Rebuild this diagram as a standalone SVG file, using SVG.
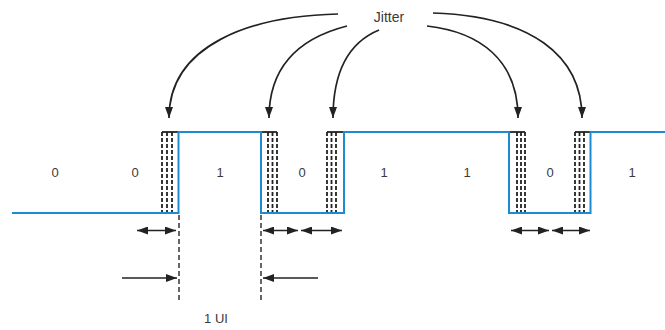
<svg xmlns="http://www.w3.org/2000/svg" width="665" height="330" viewBox="0 0 665 330">
<defs>
<marker id="ah" viewBox="0 0 11 8" refX="11" refY="4" markerWidth="11" markerHeight="8" markerUnits="userSpaceOnUse" orient="auto-start-reverse">
<path d="M0,0 L11,4 L0,8 Z" fill="#222"/>
</marker>
<style>
.sig{fill:none;stroke:#1d8bd3;stroke-width:2}
.jd{stroke:#222;stroke-width:1.8;stroke-dasharray:4,2;fill:none}
.cap{stroke:#222;stroke-width:1.8}
.ref{stroke:#333;stroke-width:1.5;stroke-dasharray:5,3;fill:none}
.arr{stroke:#222;stroke-width:1.3;fill:none}
.curve{stroke:#222;stroke-width:1.7;fill:none}
.lbl{font-family:"Liberation Sans",Arial,sans-serif;font-size:13px;fill:#3a3a3a;text-anchor:middle}
</style>
</defs>
<rect width="665" height="330" fill="#fff"/>
<g id="jitter-windows">
<g id="t1"><line class="cap" x1="162" y1="132" x2="178" y2="132"/><line class="jd" x1="162" y1="132" x2="162" y2="213"/><line class="jd" x1="167" y1="132" x2="167" y2="213"/><line class="jd" x1="172" y1="132" x2="172" y2="213"/></g>
<g id="t2"><line class="cap" x1="261" y1="132" x2="277" y2="132"/><line class="jd" x1="268" y1="132" x2="268" y2="213"/><line class="jd" x1="272.5" y1="132" x2="272.5" y2="213"/><line class="jd" x1="277" y1="132" x2="277" y2="213"/></g>
<g id="t3"><line class="cap" x1="327" y1="132" x2="344" y2="132"/><line class="jd" x1="327" y1="132" x2="327" y2="213"/><line class="jd" x1="331.5" y1="132" x2="331.5" y2="213"/><line class="jd" x1="336" y1="132" x2="336" y2="213"/></g>
<g id="t4"><line class="cap" x1="509" y1="132" x2="525" y2="132"/><line class="jd" x1="517" y1="132" x2="517" y2="213"/><line class="jd" x1="521" y1="132" x2="521" y2="213"/><line class="jd" x1="525" y1="132" x2="525" y2="213"/></g>
<g id="t5"><line class="cap" x1="575" y1="132" x2="590" y2="132"/><line class="jd" x1="575" y1="132" x2="575" y2="213"/><line class="jd" x1="579.5" y1="132" x2="579.5" y2="213"/><line class="jd" x1="584" y1="132" x2="584" y2="213"/></g>
</g>
<g id="signal">
<path class="sig" d="M12,213 H178.5 V132 H261 V213 H344 V132 H509 V213 H590.5 V132 H665"/>
</g>
<g id="connectors">
<line class="ref" x1="179" y1="215" x2="179" y2="300"/>
<line class="ref" x1="261" y1="215" x2="261" y2="300"/>
<line class="arr" x1="137" y1="230.5" x2="176" y2="230.5" marker-start="url(#ah)" marker-end="url(#ah)"/>
<line class="arr" x1="263" y1="230.5" x2="298" y2="230.5" marker-start="url(#ah)" marker-end="url(#ah)"/>
<line class="arr" x1="301" y1="230.5" x2="342" y2="230.5" marker-start="url(#ah)" marker-end="url(#ah)"/>
<line class="arr" x1="511" y1="230.5" x2="549" y2="230.5" marker-start="url(#ah)" marker-end="url(#ah)"/>
<line class="arr" x1="552" y1="230.5" x2="590" y2="230.5" marker-start="url(#ah)" marker-end="url(#ah)"/>
<line class="arr" x1="122" y1="278" x2="177" y2="278" marker-end="url(#ah)"/>
<line class="arr" x1="318" y1="278" x2="263" y2="278" marker-end="url(#ah)"/>
<path class="curve" d="M338,14 C250,16 169,45 169,118" marker-end="url(#ah)"/>
<path class="curve" d="M347,26 C300,38 269,65 269,118" marker-end="url(#ah)"/>
<path class="curve" d="M379,30 C350,42 333,70 333,118" marker-end="url(#ah)"/>
<path class="curve" d="M427,26 C480,32 518,60 518,118" marker-end="url(#ah)"/>
<path class="curve" d="M433,13 C530,16 582,55 582,118" marker-end="url(#ah)"/>
</g>
<g id="labels">
<text class="lbl" x="389" y="22" style="font-size:14px">Jitter</text>
<text class="lbl" x="55" y="177">0</text>
<text class="lbl" x="135" y="177">0</text>
<text class="lbl" x="220" y="177">1</text>
<text class="lbl" x="302" y="177">0</text>
<text class="lbl" x="384" y="177">1</text>
<text class="lbl" x="467" y="177">1</text>
<text class="lbl" x="550" y="177">0</text>
<text class="lbl" x="632" y="177">1</text>
<text class="lbl" x="216" y="323">1 UI</text>
</g>
</svg>
